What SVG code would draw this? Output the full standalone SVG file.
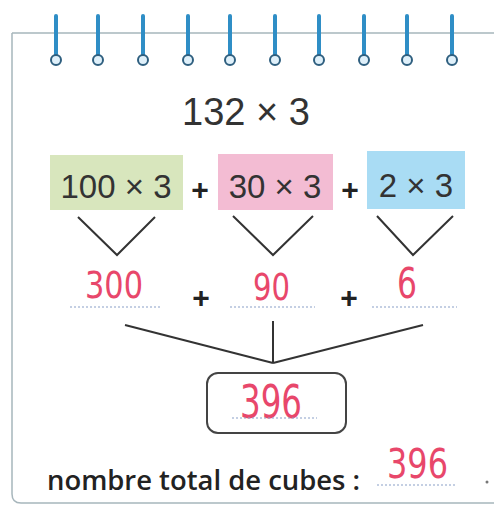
<svg xmlns="http://www.w3.org/2000/svg" width="494" height="506" viewBox="0 0 494 506">
<style>
.frame{fill:none;stroke:#a7b6bc;stroke-width:1.5}
.ring line{stroke:#2f8ec6;stroke-width:4;stroke-linecap:round}
.ring circle{fill:#dff0fa;stroke:#2f5f7f;stroke-width:2}
.title{font-family:"Liberation Sans",Arial,sans-serif;font-size:38px;fill:#333;text-anchor:middle}
.expr{font-family:"Liberation Sans",Arial,sans-serif;font-size:33px;fill:#333;text-anchor:middle}
.plus{font-family:"Liberation Sans",Arial,sans-serif;font-size:30px;font-weight:bold;fill:#222;text-anchor:middle}
.hand{font-family:"DejaVu Sans",sans-serif;fill:#e8476b}
.dots{stroke:#8aa0c8;stroke-width:1.2;stroke-dasharray:2 2;fill:none}
.conn line,.conn polyline{stroke:#333;stroke-width:2;fill:none}
.label{font-family:"Open Sans","Noto Sans",sans-serif;font-size:27px;font-weight:600;fill:#222}
</style>
<path class="frame" d="M12 33 H494 M12 33 V494 Q12 503 21 503 H494"/>
<g id="spiral">
<g class="ring"><line x1="56" y1="16" x2="56" y2="55"/><circle cx="56" cy="60" r="5"/></g>
<g class="ring"><line x1="98" y1="16" x2="98" y2="55"/><circle cx="98" cy="60" r="5"/></g>
<g class="ring"><line x1="143" y1="16" x2="143" y2="55"/><circle cx="143" cy="60" r="5"/></g>
<g class="ring"><line x1="188" y1="16" x2="188" y2="55"/><circle cx="188" cy="60" r="5"/></g>
<g class="ring"><line x1="230" y1="16" x2="230" y2="55"/><circle cx="230" cy="60" r="5"/></g>
<g class="ring"><line x1="275" y1="16" x2="275" y2="55"/><circle cx="275" cy="60" r="5"/></g>
<g class="ring"><line x1="319" y1="16" x2="319" y2="55"/><circle cx="319" cy="60" r="5"/></g>
<g class="ring"><line x1="364" y1="16" x2="364" y2="55"/><circle cx="364" cy="60" r="5"/></g>
<g class="ring"><line x1="407" y1="16" x2="407" y2="55"/><circle cx="407" cy="60" r="5"/></g>
<g class="ring"><line x1="452" y1="16" x2="452" y2="55"/><circle cx="452" cy="60" r="5"/></g>
</g>
<g id="title"><text class="title" x="246" y="125">132 × 3</text></g>
<g id="n100">
<rect x="50" y="155" width="133" height="55" fill="#d8e6bd"/>
<text class="expr" x="116" y="198">100 × 3</text>
</g>
<text class="plus" x="200" y="200">+</text>
<g id="n30">
<rect x="218" y="154" width="115" height="56" fill="#f3bcd3"/>
<text class="expr" x="275" y="198">30 × 3</text>
</g>
<text class="plus" x="350" y="200">+</text>
<g id="n2">
<rect x="367" y="151" width="98" height="58" fill="#a9dcf4"/>
<text class="expr" x="416" y="197">2 × 3</text>
</g>
<g id="connectors" class="conn">
<polyline points="78,217 117,255 155,217"/>
<polyline points="233,216 273,255 313,216"/>
<polyline points="377,216 413,255 453,216"/>
<line x1="125" y1="325" x2="273" y2="363"/>
<line x1="273" y1="321" x2="273" y2="363"/>
<line x1="423" y1="325" x2="273" y2="363"/>
</g>
<g id="r300">
<text class="hand" x="85" y="298" font-size="37" textLength="58" lengthAdjust="spacingAndGlyphs">300</text>
<line class="dots" x1="70" y1="307" x2="160" y2="307"/>
</g>
<text class="plus" x="201" y="308">+</text>
<g id="r90">
<text class="hand" x="253" y="300" font-size="37" textLength="37" lengthAdjust="spacingAndGlyphs">90</text>
<line class="dots" x1="230" y1="307" x2="315" y2="307"/>
</g>
<text class="plus" x="349" y="308">+</text>
<g id="r6">
<text class="hand" x="397" y="298" font-size="42" textLength="20" lengthAdjust="spacingAndGlyphs">6</text>
<line class="dots" x1="372" y1="307" x2="457" y2="307"/>
</g>
<g id="total">
<rect x="207" y="373" width="139" height="60" rx="11" fill="#fff" stroke="#444" stroke-width="2"/>
<text class="hand" x="240" y="418" font-size="47" textLength="62" lengthAdjust="spacingAndGlyphs">396</text>
<line class="dots" x1="232" y1="418" x2="317" y2="418"/>
</g>
<g id="answer">
<text class="label" x="47" y="490" textLength="313" lengthAdjust="spacingAndGlyphs">nombre total de cubes :</text>
<line class="dots" x1="377" y1="485" x2="455" y2="485"/>
<text class="hand" x="387" y="478" font-size="40" textLength="61" lengthAdjust="spacingAndGlyphs">396</text>
<circle cx="487" cy="482" r="1.5" fill="#777"/>
</g>
</svg>
